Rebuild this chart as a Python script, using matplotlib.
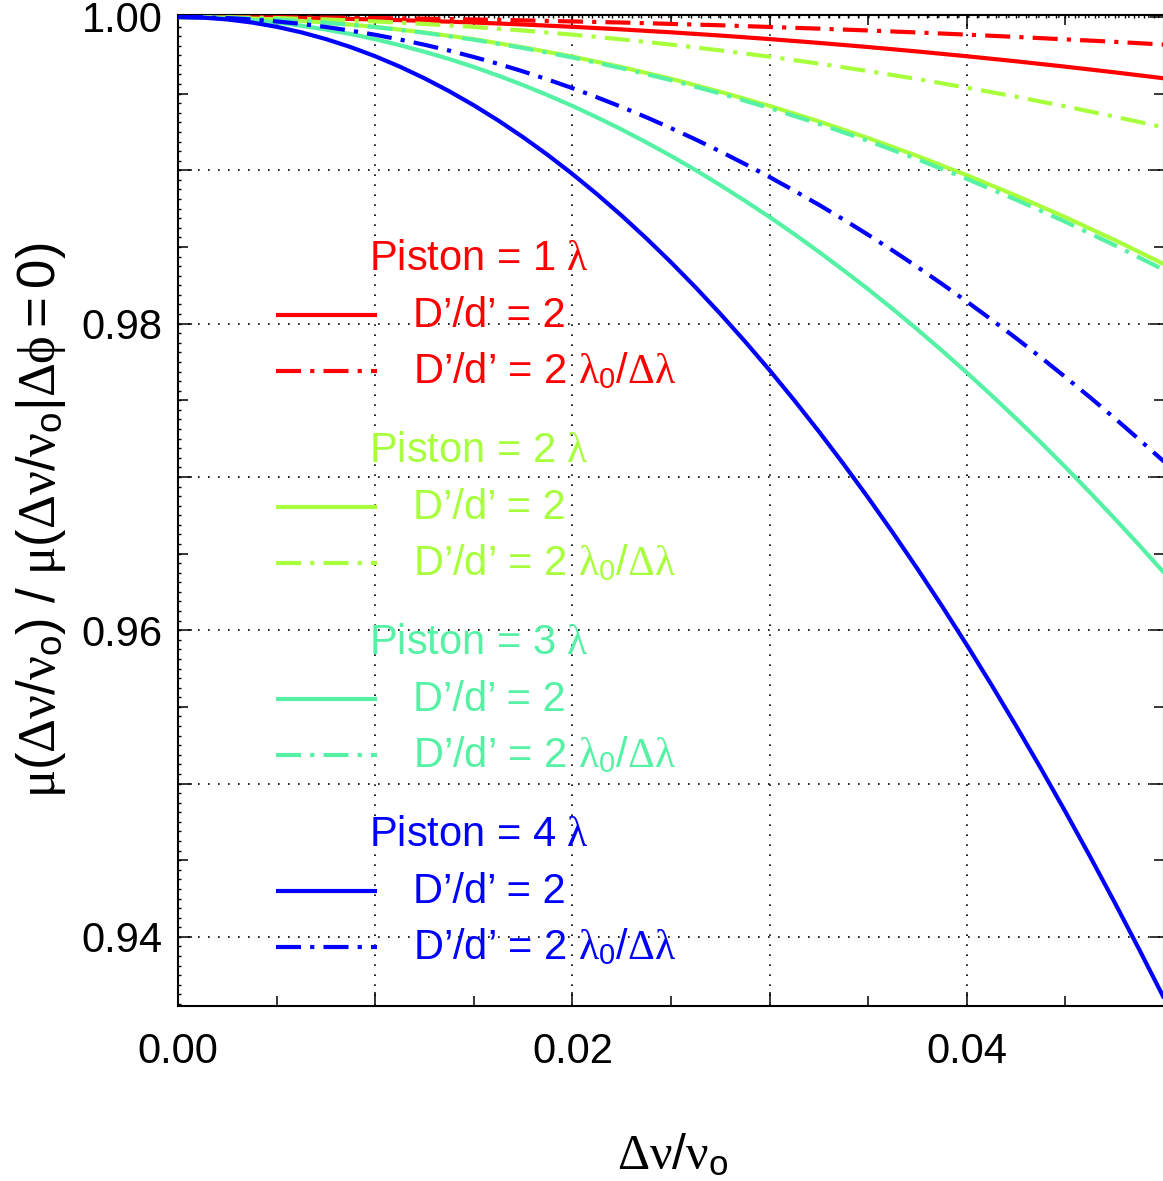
import matplotlib
matplotlib.use("Agg")
import matplotlib.pyplot as plt
from matplotlib.ticker import MultipleLocator, FuncFormatter
from matplotlib.lines import Line2D

plt.rcParams['font.family'] = ['Liberation Sans', 'DejaVu Sans']
plt.rcParams['mathtext.fontset'] = 'custom'
plt.rcParams['mathtext.rm'] = 'Liberation Serif'
plt.rcParams['mathtext.it'] = 'Liberation Serif'
plt.rcParams['mathtext.sf'] = 'Liberation Sans'
plt.rcParams['mathtext.bf'] = 'Liberation Serif:bold'

# ---------------- data ----------------
dnu = [0.0, 0.0025, 0.005, 0.0075, 0.01, 0.0125, 0.015, 0.0175, 0.02, 0.0225, 0.025,
       0.0275, 0.03, 0.0325, 0.035, 0.0375, 0.04, 0.0425, 0.045, 0.0475, 0.05]
dnu_fine = [0.0, 0.00125, 0.0025, 0.00375, 0.005, 0.00625, 0.0075, 0.00875, 0.01, 0.01125,
            0.0125, 0.01375, 0.015, 0.01625, 0.0175, 0.01875, 0.02, 0.02125, 0.0225, 0.02375,
            0.025, 0.02625, 0.0275, 0.02875, 0.03, 0.03125, 0.0325, 0.03375, 0.035, 0.03625,
            0.0375, 0.03875, 0.04, 0.04125, 0.0425, 0.04375, 0.045, 0.04625, 0.0475, 0.04875, 0.05]

p1_solid = [1.0, 0.99999, 0.99996, 0.99991, 0.99984, 0.99975, 0.99964, 0.99951, 0.99936, 0.99919,
            0.99900, 0.99879, 0.99856, 0.99831, 0.99804, 0.99775, 0.99744, 0.99711, 0.99676, 0.99639, 0.99600]
p1_dashdot = [1.0, 1.0, 0.99998, 0.99996, 0.99993, 0.99989, 0.99984, 0.99978, 0.99971, 0.99964,
              0.99955, 0.99946, 0.99935, 0.99924, 0.99912, 0.99899, 0.99885, 0.99870, 0.99854, 0.99838, 0.99820]
p2_solid = [1.0, 0.99996, 0.99984, 0.99964, 0.99936, 0.99899, 0.99855, 0.99802, 0.99742, 0.99673,
            0.99597, 0.99512, 0.99420, 0.99319, 0.99210, 0.99093, 0.98968, 0.98835, 0.98694, 0.98545, 0.98388]
p2_dashdot = [1.0, 0.99998, 0.99993, 0.99984, 0.99971, 0.99955, 0.99935, 0.99912, 0.99885, 0.99854,
              0.99820, 0.99782, 0.99741, 0.99696, 0.99647, 0.99595, 0.99539, 0.99480, 0.99417, 0.99350, 0.99280]
p3_solid = [1.0, 0.99998, 0.99991, 0.99980, 0.99964, 0.99943, 0.99918, 0.99889, 0.99855, 0.99816,
            0.99773, 0.99726, 0.99674, 0.99617, 0.99556, 0.99490, 0.99420, 0.99345, 0.99266, 0.99182,
            0.99094, 0.99001, 0.98903, 0.98801, 0.98695, 0.98584, 0.98468, 0.98348, 0.98224, 0.98095,
            0.97961, 0.97823, 0.97680, 0.97533, 0.97381, 0.97225, 0.97064, 0.96898, 0.96728, 0.96554, 0.96375]
p3_dashdot = [1.0, 0.99996, 0.99983, 0.99963, 0.99934, 0.99897, 0.99852, 0.99798, 0.99736, 0.99666,
              0.99588, 0.99501, 0.99406, 0.99303, 0.99192, 0.99072, 0.98944, 0.98808, 0.98664, 0.98511, 0.98350]
p4_solid = [1.0, 0.99996, 0.99984, 0.99964, 0.99936, 0.99900, 0.99856, 0.99804, 0.99744, 0.99676,
            0.99600, 0.99516, 0.99424, 0.99324, 0.99216, 0.99100, 0.98976, 0.98844, 0.98704, 0.98556,
            0.98400, 0.98236, 0.98064, 0.97884, 0.97696, 0.97500, 0.97296, 0.97084, 0.96864, 0.96636,
            0.96400, 0.96156, 0.95904, 0.95644, 0.95376, 0.95100, 0.94816, 0.94524, 0.94224, 0.93916, 0.93600]
p4_dashdot = [1.0, 0.99998, 0.99993, 0.99984, 0.99971, 0.99955, 0.99935, 0.99911, 0.99884, 0.99853,
              0.99819, 0.99781, 0.99739, 0.99694, 0.99645, 0.99592, 0.99536, 0.99476, 0.99413, 0.99346,
              0.99275, 0.99201, 0.99123, 0.99041, 0.98956, 0.98867, 0.98775, 0.98679, 0.98579, 0.98476,
              0.98369, 0.98258, 0.98144, 0.98026, 0.97905, 0.97780, 0.97651, 0.97519, 0.97383, 0.97243, 0.97100]

pistons = ["1", "2", "3", "4"]
colors = ["#FF0000", "#A8FF3C", "#55F2A5", "#0000FF"]
series = [((dnu, p1_solid), (dnu, p1_dashdot)),
          ((dnu, p2_solid), (dnu, p2_dashdot)),
          ((dnu_fine, p3_solid), (dnu, p3_dashdot)),
          ((dnu_fine, p4_solid), (dnu_fine, p4_dashdot))]

# ---------------- figure ----------------
W, H = 1163, 1181
fig = plt.figure(figsize=(W / 100, H / 100), dpi=100)
ax_l, ax_r, ax_t, ax_b = 178, 1164, 15, 1006
ax = fig.add_axes([ax_l / W, 1 - ax_b / H, (ax_r - ax_l) / W, (ax_b - ax_t) / H])

lw = 3.0
dashdot = (0, (6, 2.2, 1, 2.2))
for ((xs, sol), (xd, dd)), c in zip(series, colors):
    ax.plot(xs, sol, color=c, lw=lw, solid_capstyle='butt', solid_joinstyle='round', zorder=3)
    ax.plot(xd, dd, color=c, lw=lw, linestyle=dashdot, zorder=3)

ax.set_xlim(0.0, 0.05)
ax.set_ylim(0.93549, 1.00013)

# ticks
ax.xaxis.set_major_locator(MultipleLocator(0.01))
ax.xaxis.set_minor_locator(MultipleLocator(0.005))
ax.yaxis.set_major_locator(MultipleLocator(0.01))
ax.yaxis.set_minor_locator(MultipleLocator(0.005))
ax.xaxis.set_major_formatter(FuncFormatter(lambda v, p: f"{v:.2f}" if round(v / 0.01) % 2 == 0 else ""))
ax.yaxis.set_major_formatter(FuncFormatter(lambda v, p: f"{v:.2f}" if round(v / 0.01) % 2 == 0 else ""))
ax.tick_params(which='both', direction='in', top=True, right=True, width=1.1, colors='black')
ax.tick_params(which='major', length=10, labelsize=30)
ax.tick_params(which='minor', length=7)
ax.tick_params(axis='x', which='major', pad=19)
ax.tick_params(axis='y', which='major', pad=11)

# tiny ticks on top and left
secx = ax.secondary_xaxis('top')
secx.set_xticks([])
secx.xaxis.set_minor_locator(MultipleLocator(0.0005))
secx.tick_params(which='minor', direction='in', length=2.2, width=1.0)
secx.spines['top'].set_visible(False)
secy = ax.secondary_yaxis('left')
secy.set_yticks([])
secy.yaxis.set_minor_locator(MultipleLocator(0.000625))
secy.tick_params(which='minor', direction='in', length=2.2, width=1.0)
secy.spines['left'].set_visible(False)

for s in ax.spines.values():
    s.set_linewidth(1.5)

ax.grid(True, which='major', color='black', linestyle=(0, (1, 5)), linewidth=1.2)
ax.set_axisbelow(True)

# ---------------- in-plot legend ----------------
def fx(px):
    return (px - ax_l) / (ax_r - ax_l)

def fy(py):
    return (ax_b - py) / (ax_b - ax_t)

fs = 30
for g, (p, c) in enumerate(zip(pistons, colors)):
    y0 = 259 + 192 * g
    ax.text(fx(369), fy(y0), f"Piston = {p} $\\lambda$", color=c, fontsize=fs,
            transform=ax.transAxes, ha='left', va='center', zorder=5)
    ax.add_line(Line2D([fx(276), fx(377)], [fy(y0 + 56)] * 2, color=c, lw=lw,
                       solid_capstyle='butt', transform=ax.transAxes, zorder=5))
    ax.text(fx(413), fy(y0 + 57), "D\u2019/d\u2019 = 2", color=c, fontsize=fs,
            transform=ax.transAxes, ha='left', va='center', zorder=5)
    ax.add_line(Line2D([fx(276), fx(377)], [fy(y0 + 112)] * 2, color=c, lw=lw,
                       linestyle=dashdot, transform=ax.transAxes, zorder=5))
    ax.text(fx(413), fy(y0 + 113),
            "D\u2019/d\u2019 = 2 $\\lambda_{\\mathsf{0}}\\mathsf{/}\\Delta\\lambda$",
            color=c, fontsize=fs, transform=ax.transAxes, ha='left', va='center', zorder=5)

# axis labels
fig.text(673 / W, 1 - 1156 / H, r"$\Delta\nu\mathsf{/}\nu_{\mathsf{o}}$",
         fontsize=36, ha='center', va='center')
fig.text(41 / W, 1 - 520 / H,
         r"$\mu\mathsf{(}\Delta\nu\mathsf{/}\nu_{\mathsf{o}}\mathsf{)\ /\ }\mu\mathsf{(}\Delta\nu\mathsf{/}\nu_{\mathsf{o}}\mathsf{|}\Delta\phi\mathsf{=0)}$",
         fontsize=38, ha='center', va='center', rotation=90)

fig.savefig("out.png", dpi=100)
